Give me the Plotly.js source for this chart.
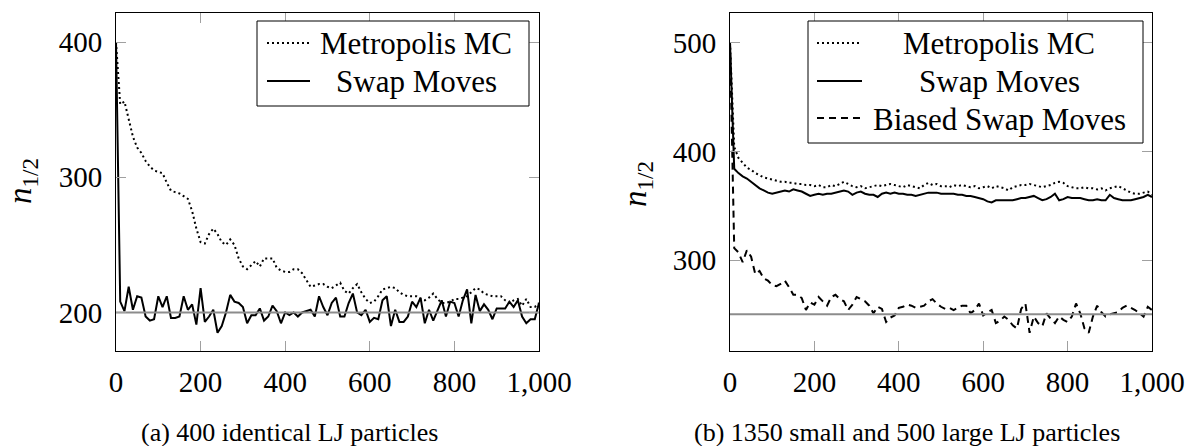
<!DOCTYPE html>
<html>
<head>
<meta charset="utf-8">
<script src="https://cdn.plot.ly/plotly-3.0.1.min.js"></script>
<style>html,body{margin:0;padding:0;background:#fff;}#chart{width:1190px;height:446px;}</style>
</head>
<body>
<div id="chart"></div>
<script>
// ---- data ----
const steps = [0,10,20,30,40,50,60,70,80,90,100,110,120,130,140,150,160,170,180,190,200,
  210,220,230,240,250,260,270,280,290,300,310,320,330,340,350,360,370,380,390,400,
  410,420,430,440,450,460,470,480,490,500,510,520,530,540,550,560,570,580,590,600,
  610,620,630,640,650,660,670,680,690,700,710,720,730,740,750,760,770,780,790,800,
  810,820,830,840,850,860,870,880,890,900,910,920,930,940,950,960,970,980,990,1000];

const leftMetropolis = [400,
  354,356,342,330,322,318,312,308,305,304,
  303,296,290,289,288,286,284,275,262,252,
  251,258,262,258,252,250,254,250,240,234,
  232,235,238,234,240,240,240,233,231,230,
  230,232,232,229,224,219,220,221,221,219,
  218,220,222,216,214,218,221,215,210,207,
  208,212,217,218,219,218,215,213,212,212,
  212,210,209,211,214,210,207,207,208,210,
  210,211,212,215,218,217,214,213,212,212,
  212,209,207,209,210,205,210,204,204,207];

const leftSwap = [400,
  208,201,219,202,212,211,197,194,195,212,
  204,212,196,196,197,212,202,206,191,218,
  193,197,202,185,190,200,213,208,207,204,
  192,198,198,203,194,197,205,201,192,200,
  198,200,197,200,201,202,197,212,204,198,
  207,211,197,197,207,214,200,198,202,193,
  196,195,209,212,190,202,193,193,197,208,
  204,211,192,202,194,201,209,197,208,207,
  197,209,217,192,213,201,206,202,195,203,
  203,203,208,204,209,197,192,195,195,207];

const rightMetropolis = [500,
  404,394,389,385,383,380,378,376,375,374,
  373,372,372,371,371,370,370,369,369,368,
  369,367,367,369,368,370,372,370,368,367,
  368,366,367,368,369,368,369,370,369,368,
  367,369,368,367,366,369,371,369,370,368,
  368,367,369,368,369,368,367,368,366,367,
  368,366,368,367,366,364,367,368,369,369,
  370,369,368,367,368,369,371,372,371,368,
  367,366,366,367,366,366,365,366,364,366,
  367,368,366,364,362,361,361,362,363,360];

const rightSwap = [500,
  384,380,377,375,372,369,366,364,362,361,
  362,363,364,363,365,364,363,361,359,360,
  361,360,361,361,362,363,364,363,360,362,
  363,361,360,360,358,361,362,361,362,361,
  361,360,360,359,360,361,362,362,362,361,
  361,361,361,360,360,359,359,358,357,356,
  354,353,355,355,355,355,355,356,357,357,
  358,359,357,355,356,358,361,355,356,358,
  357,357,357,356,355,355,356,355,355,360,
  357,356,355,355,355,356,357,358,360,358];

const rightBiased = [500,
  311,307,298,309,303,287,290,283,281,277,
  276,278,281,275,268,268,265,254,261,259,
  266,262,258,266,268,264,262,254,259,266,
  264,262,258,251,257,255,243,247,249,256,
  257,259,258,256,257,258,262,264,260,257,
  255,256,254,256,258,258,251,254,260,249,
  252,254,242,244,248,245,240,237,255,260,
  233,248,242,239,251,246,242,248,245,243,
  248,260,251,237,233,248,258,252,248,250,
  251,252,256,258,256,254,251,248,257,254];

const refX = [0, 1000];
const refLeft = [200, 200];
const refRight = [250, 250];

const xTickVals = [0, 200, 400, 600, 800, 1000];
const xTickText = ['0', '200', '400', '600', '800', '1,000'];
const leftYTicks = [200, 300, 400];
const rightYTicks = [300, 400, 500];

const legendLeft = ['Metropolis MC', 'Swap Moves'];
const legendRight = ['Metropolis MC', 'Swap Moves', 'Biased Swap Moves'];
const captionLeft = '(a) 400 identical LJ particles';
const captionRight = '(b) 1350 small and 500 large LJ particles';
const yLabel = '<i>n</i><sub>1/2</sub>';

// ---- styling ----
const W = 1190, H = 446;
const px = x => x / W;
const py = y => 1 - y / H;
const SERIF = 'Liberation Serif';
const DOT = '2px,3px';
const DASH = '7px,5px';
const lineStyles = {
  metro: {color: '#000', width: 2, dash: DOT},
  swap: {color: '#000', width: 2, dash: 'solid'},
  biased: {color: '#000', width: 2, dash: DASH},
  ref: {color: '#8c8c8c', width: 2, dash: 'solid'}
};

const traces = [
  {x: steps, y: leftMetropolis, xaxis: 'x', yaxis: 'y', mode: 'lines', line: lineStyles.metro, name: legendLeft[0]},
  {x: steps, y: leftSwap, xaxis: 'x', yaxis: 'y', mode: 'lines', line: lineStyles.swap, name: legendLeft[1]},
  {x: refX, y: refLeft, xaxis: 'x', yaxis: 'y', mode: 'lines', line: lineStyles.ref, name: 'reference'},
  {x: steps, y: rightMetropolis, xaxis: 'x2', yaxis: 'y2', mode: 'lines', line: lineStyles.metro, name: legendRight[0]},
  {x: steps, y: rightSwap, xaxis: 'x2', yaxis: 'y2', mode: 'lines', line: lineStyles.swap, name: legendRight[1]},
  {x: steps, y: rightBiased, xaxis: 'x2', yaxis: 'y2', mode: 'lines', line: lineStyles.biased, name: legendRight[2]},
  {x: refX, y: refRight, xaxis: 'x2', yaxis: 'y2', mode: 'lines', line: lineStyles.ref, name: 'reference'}
];

const tickFont = {family: SERIF, size: 29, color: '#000'};
function xAxis(domain, anchor) {
  return {domain: domain, anchor: anchor, range: [0, 1000], tickmode: 'array', tickvals: xTickVals, ticktext: xTickText,
    ticks: 'inside', ticklen: 10, tickwidth: 1, tickcolor: '#a0a0a0', showline: true, linecolor: '#000', linewidth: 1,
    mirror: 'ticks', showgrid: false, zeroline: false, tickfont: tickFont, ticklabelstandoff: 5, fixedrange: true};
}
function yAxis(domain, anchor, range, vals) {
  return {domain: domain, anchor: anchor, range: range, tickmode: 'array', tickvals: vals,
    ticks: 'inside', ticklen: 10, tickwidth: 1, tickcolor: '#a0a0a0', showline: true, linecolor: '#000', linewidth: 1,
    mirror: 'ticks', showgrid: false, zeroline: false, tickfont: tickFont, ticklabelstandoff: 7, fixedrange: true};
}

const yDom = [py(351), py(13)];
const shapes = [];
const annotations = [];

function legend(box, rows, labels, styles) {
  shapes.push({type: 'rect', xref: 'paper', yref: 'paper', x0: px(box[0]), x1: px(box[1]), y0: py(box[3]), y1: py(box[2]),
    line: {color: '#000', width: 1}, fillcolor: '#fff', layer: 'above'});
  rows.forEach((r, i) => {
    shapes.push({type: 'line', xref: 'paper', yref: 'paper', x0: px(r.l0), x1: px(r.l1), y0: py(r.y), y1: py(r.y),
      line: styles[i], layer: 'above'});
    annotations.push({xref: 'paper', yref: 'paper', x: px(r.tx), y: py(r.y + 1), xanchor: 'center', yanchor: 'middle',
      text: labels[i], showarrow: false, font: {family: SERIF, size: 31, color: '#000'}});
  });
}
legend([257, 529, 21, 106], [
  {l0: 267, l1: 310, y: 43, tx: 416},
  {l0: 267, l1: 310, y: 81, tx: 416}
], legendLeft, [lineStyles.metro, lineStyles.swap]);
legend([808, 1143, 21, 143], [
  {l0: 817, l1: 862, y: 43, tx: 999},
  {l0: 817, l1: 862, y: 81, tx: 999},
  {l0: 817, l1: 862, y: 118, tx: 999}
], legendRight, [lineStyles.metro, lineStyles.swap, lineStyles.biased]);

annotations.push({xref: 'paper', yref: 'paper', x: px(23), y: py(181), xanchor: 'center', yanchor: 'middle', textangle: -90,
  text: yLabel, showarrow: false, font: {family: SERIF, size: 33, color: '#000'}});
annotations.push({xref: 'paper', yref: 'paper', x: px(637), y: py(184), xanchor: 'center', yanchor: 'middle', textangle: -90,
  text: yLabel, showarrow: false, font: {family: SERIF, size: 33, color: '#000'}});
annotations.push({xref: 'paper', yref: 'paper', x: px(289), y: py(432), xanchor: 'center', yanchor: 'middle',
  text: captionLeft, showarrow: false, font: {family: SERIF, size: 26, color: '#000'}});
annotations.push({xref: 'paper', yref: 'paper', x: px(907), y: py(432), xanchor: 'center', yanchor: 'middle',
  text: captionRight, showarrow: false, font: {family: SERIF, size: 26, color: '#000'}});

const layout = {
  width: W, height: H, margin: {l: 0, r: 0, t: 0, b: 0}, showlegend: false,
  paper_bgcolor: '#fff', plot_bgcolor: '#fff',
  font: {family: SERIF, color: '#000'},
  xaxis: xAxis([px(116), px(539)], 'y'),
  yaxis: yAxis(yDom, 'x', [171.5, 421.5], leftYTicks),
  xaxis2: xAxis([px(730), px(1152)], 'y2'),
  yaxis2: yAxis(yDom, 'x2', [216.3, 527.3], rightYTicks),
  shapes: shapes, annotations: annotations
};

Plotly.newPlot('chart', traces, layout, {displayModeBar: false, staticPlot: true});
</script>
</body>
</html>
